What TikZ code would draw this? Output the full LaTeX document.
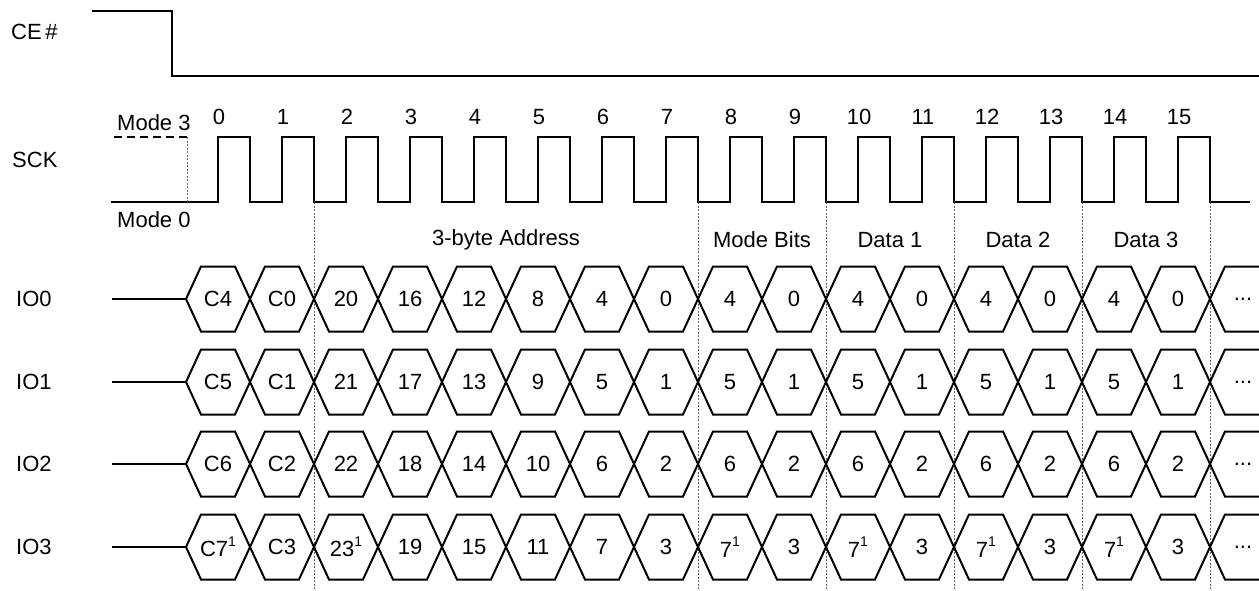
\documentclass[tikz,border=0pt]{standalone}
\usepackage{fontspec}
\setmainfont{Liberation Sans}
\newcommand\supone{\raisebox{0.48em}{\fontsize{14}{14}\selectfont 1}}
\begin{document}
\begin{tikzpicture}[x=1pt,y=-1pt,
  wave/.style={line width=2pt, line join=miter},
  guide/.style={black!60, line width=0.9pt, dash pattern=on 2pt off 1.5pt},
  lbl/.style={font=\fontsize{22}{26}\selectfont, inner sep=0pt}]
\useasboundingbox (0,0) rectangle (1259,590);

% signal names
\node[lbl, anchor=west] (ce)  at (11,32)  {CE\,\#};
\node[lbl, anchor=west] (sck) at (12,160) {SCK};
\foreach \r/\y in {0/299,1/382,2/464,3/547}
  \node[lbl, anchor=west] (io\r) at (16,\y) {IO\r};

% CE#
\coordinate (ce0) at (92,11);
\coordinate (ce1) at (172,11);
\coordinate (ce2) at (172,76);
\coordinate (ce3) at (1259,76);
\draw[wave] (ce0) -- (ce1) -- (ce2) -- (ce3);

% SCK
\coordinate (sck0) at (111,202);
\coordinate (sck1) at (1250,202);
\draw[wave] (sck0) \foreach \k in {0,...,15} {
   -- ({218+64*\k},202) -- ({218+64*\k},137) -- ({250+64*\k},137) -- ({250+64*\k},202)}
   -- (sck1);
\coordinate (m3a) at (114,137);
\coordinate (m3b) at (187,137);
\coordinate (m3c) at (187,202);
\draw[line width=1.4pt, dash pattern=on 8pt off 5pt] (m3a) -- (m3b);
\draw[guide] (m3b) -- (m3c);
\node[lbl, anchor=west] (mode3) at (117,123) {Mode 3};
\node[lbl, anchor=west] (mode0) at (117,220) {Mode 0};
\foreach \k in {0,...,15}
  \node[lbl] (n\k) at ({219+64*\k},117) {\k};

% guides
\foreach \x [count=\i] in {314,698,826,954,1082,1210} {
  \coordinate (gt\i) at (\x,202);
  \coordinate (gb\i) at (\x,590);
  \draw[guide] (gt\i) -- (gb\i);
}

% phase labels
\node[lbl] (addr)  at (506,240) {3-byte Address};
\node[lbl] (modeb) at (762,240) {Mode Bits};
\node[lbl] (d1)    at (890,240) {Data 1};
\node[lbl] (d2)    at (1018,240) {Data 2};
\node[lbl] (d3)    at (1146,240) {Data 3};

% IO buses
\foreach \r/\y/\lst in {
  0/299/{C4,C0,20,16,12,8,4,0,4,0,4,0,4,0,4,0},
  1/382/{C5,C1,21,17,13,9,5,1,5,1,5,1,5,1,5,1},
  2/464/{C6,C2,22,18,14,10,6,2,6,2,6,2,6,2,6,2},
  3/547/{C7\supone,C3,23\supone,19,15,11,7,3,7\supone,3,7\supone,3,7\supone,3,7\supone,3}} {
  \coordinate (l\r) at (112,\y);
  \coordinate (s\r) at (186,\y);
  \draw[wave] (l\r) -- (s\r);
  \foreach \t [count=\i from 0] in \lst {
    \pgfmathsetmacro\a{186+64*\i}
    \pgfmathsetmacro\b{250+64*\i}
    \draw[wave] (\a,\y) -- (\a+15,\y-32.5) -- (\b-15,\y-32.5) -- (\b,\y)
       -- (\b-15,\y+32.5) -- (\a+15,\y+32.5) -- cycle;
    \node[lbl] (h\r-\i) at (\a+32,\y) {\t};
  }
  \draw[wave] (1259,\y-32.5) -- (1225,\y-32.5) -- (1210,\y) -- (1225,\y+32.5) -- (1259,\y+32.5);
  \node[lbl] (e\r) at (1243,\y) {...};
}
\end{tikzpicture}
\end{document}
